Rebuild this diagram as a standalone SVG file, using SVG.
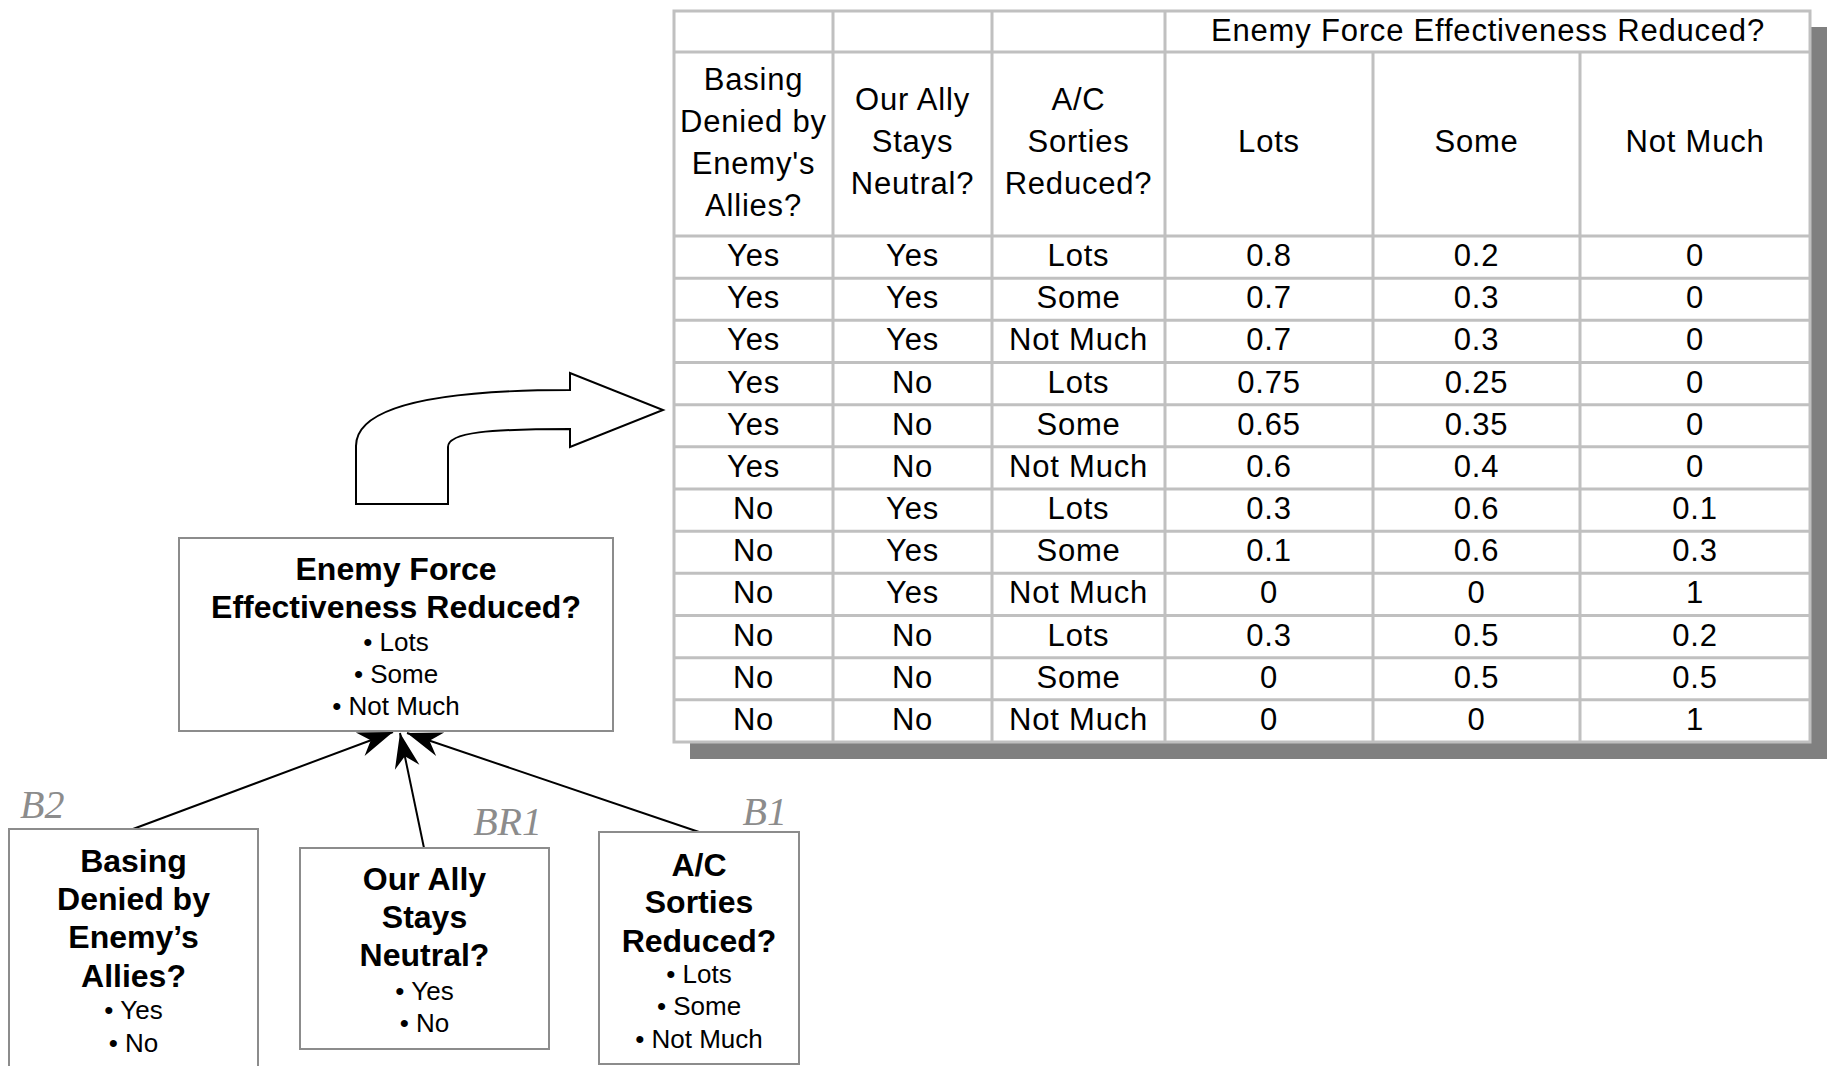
<svg xmlns="http://www.w3.org/2000/svg" width="1830" height="1066" viewBox="0 0 1830 1066">
  <style>
    .cell { font-family: "Liberation Sans", Arial, sans-serif; font-size: 31px; letter-spacing: 0.8px; fill: #000; text-anchor: middle; }
    .grid { stroke: #c0c0c0; stroke-width: 3; fill: none; }
    .sheet { stroke: #c0c0c0; stroke-width: 3; fill: #fff; }
    .box { fill: #fff; stroke: #8c8c8c; stroke-width: 2; }
    .title { font-family: "Liberation Sans", Arial, sans-serif; font-size: 32px; font-weight: bold; fill: #000; text-anchor: middle; }
    .item { font-family: "Liberation Sans", Arial, sans-serif; font-size: 26px; fill: #000; text-anchor: middle; }
    .tag { font-family: "Liberation Serif", "Times New Roman", serif; font-style: italic; font-size: 40px; fill: #8c8c8c; }
    .link { stroke: #000; stroke-width: 2; fill: none; marker-end: url(#head); }
  </style>
  <defs>
    <marker id="head" markerUnits="userSpaceOnUse" markerWidth="40" markerHeight="30" viewBox="-30 -12 32 24" refX="0" refY="0" orient="auto">
      <path d="M0,0 L-28,-10 L-19,0 L-28,10 Z" fill="#000"/>
    </marker>
  </defs>

  <rect width="1830" height="1066" fill="#fff"/>

  <!-- conditional probability table -->
  <g id="cpt-table">
    <rect x="690" y="27" width="1137" height="732" fill="#808080"/>
    <rect class="sheet" x="674" y="11" width="1136" height="731"/>
    <g class="grid">
      <line x1="833" y1="11" x2="833" y2="742"/>
      <line x1="992" y1="11" x2="992" y2="742"/>
      <line x1="1165" y1="11" x2="1165" y2="742"/>
      <line x1="1373" y1="52" x2="1373" y2="742"/>
      <line x1="1580" y1="52" x2="1580" y2="742"/>
      <line x1="674" y1="52" x2="1810" y2="52"/>
      <line x1="674" y1="236" x2="1810" y2="236"/>
      <line x1="674" y1="278.2" x2="1810" y2="278.2"/>
      <line x1="674" y1="320.3" x2="1810" y2="320.3"/>
      <line x1="674" y1="362.5" x2="1810" y2="362.5"/>
      <line x1="674" y1="404.7" x2="1810" y2="404.7"/>
      <line x1="674" y1="446.8" x2="1810" y2="446.8"/>
      <line x1="674" y1="489" x2="1810" y2="489"/>
      <line x1="674" y1="531.2" x2="1810" y2="531.2"/>
      <line x1="674" y1="573.3" x2="1810" y2="573.3"/>
      <line x1="674" y1="615.5" x2="1810" y2="615.5"/>
      <line x1="674" y1="657.7" x2="1810" y2="657.7"/>
      <line x1="674" y1="699.8" x2="1810" y2="699.8"/>
    </g>
    <text class="cell" x="1488" y="41">Enemy Force Effectiveness Reduced?</text>
    <text class="cell" x="753.5" y="90">Basing</text>
    <text class="cell" x="753.5" y="132">Denied by</text>
    <text class="cell" x="753.5" y="174">Enemy's</text>
    <text class="cell" x="753.5" y="216">Allies?</text>
    <text class="cell" x="912.5" y="110">Our Ally</text>
    <text class="cell" x="912.5" y="152">Stays</text>
    <text class="cell" x="912.5" y="194">Neutral?</text>
    <text class="cell" x="1078.5" y="110">A/C</text>
    <text class="cell" x="1078.5" y="152">Sorties</text>
    <text class="cell" x="1078.5" y="194">Reduced?</text>
    <text class="cell" x="1269" y="152">Lots</text>
    <text class="cell" x="1476.5" y="152">Some</text>
    <text class="cell" x="1695" y="152">Not Much</text>

    <g>
      <text class="cell" x="753.5" y="266">Yes</text><text class="cell" x="912.5" y="266">Yes</text><text class="cell" x="1078.5" y="266">Lots</text><text class="cell" x="1269" y="266">0.8</text><text class="cell" x="1476.5" y="266">0.2</text><text class="cell" x="1695" y="266">0</text>
      <text class="cell" x="753.5" y="308">Yes</text><text class="cell" x="912.5" y="308">Yes</text><text class="cell" x="1078.5" y="308">Some</text><text class="cell" x="1269" y="308">0.7</text><text class="cell" x="1476.5" y="308">0.3</text><text class="cell" x="1695" y="308">0</text>
      <text class="cell" x="753.5" y="350">Yes</text><text class="cell" x="912.5" y="350">Yes</text><text class="cell" x="1078.5" y="350">Not Much</text><text class="cell" x="1269" y="350">0.7</text><text class="cell" x="1476.5" y="350">0.3</text><text class="cell" x="1695" y="350">0</text>
      <text class="cell" x="753.5" y="392.5">Yes</text><text class="cell" x="912.5" y="392.5">No</text><text class="cell" x="1078.5" y="392.5">Lots</text><text class="cell" x="1269" y="392.5">0.75</text><text class="cell" x="1476.5" y="392.5">0.25</text><text class="cell" x="1695" y="392.5">0</text>
      <text class="cell" x="753.5" y="434.5">Yes</text><text class="cell" x="912.5" y="434.5">No</text><text class="cell" x="1078.5" y="434.5">Some</text><text class="cell" x="1269" y="434.5">0.65</text><text class="cell" x="1476.5" y="434.5">0.35</text><text class="cell" x="1695" y="434.5">0</text>
      <text class="cell" x="753.5" y="476.5">Yes</text><text class="cell" x="912.5" y="476.5">No</text><text class="cell" x="1078.5" y="476.5">Not Much</text><text class="cell" x="1269" y="476.5">0.6</text><text class="cell" x="1476.5" y="476.5">0.4</text><text class="cell" x="1695" y="476.5">0</text>
      <text class="cell" x="753.5" y="519">No</text><text class="cell" x="912.5" y="519">Yes</text><text class="cell" x="1078.5" y="519">Lots</text><text class="cell" x="1269" y="519">0.3</text><text class="cell" x="1476.5" y="519">0.6</text><text class="cell" x="1695" y="519">0.1</text>
      <text class="cell" x="753.5" y="561">No</text><text class="cell" x="912.5" y="561">Yes</text><text class="cell" x="1078.5" y="561">Some</text><text class="cell" x="1269" y="561">0.1</text><text class="cell" x="1476.5" y="561">0.6</text><text class="cell" x="1695" y="561">0.3</text>
      <text class="cell" x="753.5" y="603">No</text><text class="cell" x="912.5" y="603">Yes</text><text class="cell" x="1078.5" y="603">Not Much</text><text class="cell" x="1269" y="603">0</text><text class="cell" x="1476.5" y="603">0</text><text class="cell" x="1695" y="603">1</text>
      <text class="cell" x="753.5" y="645.5">No</text><text class="cell" x="912.5" y="645.5">No</text><text class="cell" x="1078.5" y="645.5">Lots</text><text class="cell" x="1269" y="645.5">0.3</text><text class="cell" x="1476.5" y="645.5">0.5</text><text class="cell" x="1695" y="645.5">0.2</text>
      <text class="cell" x="753.5" y="687.5">No</text><text class="cell" x="912.5" y="687.5">No</text><text class="cell" x="1078.5" y="687.5">Some</text><text class="cell" x="1269" y="687.5">0</text><text class="cell" x="1476.5" y="687.5">0.5</text><text class="cell" x="1695" y="687.5">0.5</text>
      <text class="cell" x="753.5" y="729.5">No</text><text class="cell" x="912.5" y="729.5">No</text><text class="cell" x="1078.5" y="729.5">Not Much</text><text class="cell" x="1269" y="729.5">0</text><text class="cell" x="1476.5" y="729.5">0</text><text class="cell" x="1695" y="729.5">1</text>
    </g>
  </g>

  <!-- bent block arrow pointing from the node to its table -->
  <g id="table-pointer">
    <path d="M356,504 L356,446 C356,408 430,390 570,390 L570,373 L663,410 L570,447 L570,429 C490,429 448,432 448,447 L448,504 Z" fill="#fff" stroke="#000" stroke-width="2"/>
  </g>

  <!-- connectors -->
  <g id="connectors">
    <line class="link" x1="133" y1="829" x2="393" y2="732"/>
    <line class="link" x1="424" y1="848" x2="400" y2="733"/>
    <line class="link" x1="699" y1="832" x2="407" y2="733"/>
  </g>

  <!-- nodes -->
  <g id="node-effectiveness">
    <rect class="box" x="179" y="538" width="434" height="193"/>
    <text class="title" x="396" y="580">Enemy Force</text>
    <text class="title" x="396" y="618">Effectiveness Reduced?</text>
    <text class="item" x="396" y="651">• Lots</text>
    <text class="item" x="396" y="683">• Some</text>
    <text class="item" x="396" y="715">• Not Much</text>
  </g>

  <g id="node-basing">
    <rect class="box" x="9" y="829" width="249" height="245"/>
    <text class="tag" x="20" y="818">B2</text>
    <text class="title" x="133.5" y="872">Basing</text>
    <text class="title" x="133.5" y="910">Denied by</text>
    <text class="title" x="133.5" y="948">Enemy’s</text>
    <text class="title" x="133.5" y="987">Allies?</text>
    <text class="item" x="133.5" y="1019">• Yes</text>
    <text class="item" x="133.5" y="1052">• No</text>
  </g>

  <g id="node-ally">
    <rect class="box" x="300" y="848" width="249" height="201"/>
    <text class="tag" x="542" y="835" text-anchor="end">BR1</text>
    <text class="title" x="424.5" y="890">Our Ally</text>
    <text class="title" x="424.5" y="928">Stays</text>
    <text class="title" x="424.5" y="966">Neutral?</text>
    <text class="item" x="424.5" y="1000">• Yes</text>
    <text class="item" x="424.5" y="1032">• No</text>
  </g>

  <g id="node-sorties">
    <rect class="box" x="599" y="832" width="200" height="232"/>
    <text class="tag" x="787" y="825" text-anchor="end">B1</text>
    <text class="title" x="699" y="876">A/C</text>
    <text class="title" x="699" y="913">Sorties</text>
    <text class="title" x="699" y="952">Reduced?</text>
    <text class="item" x="699" y="983">• Lots</text>
    <text class="item" x="699" y="1015">• Some</text>
    <text class="item" x="699" y="1048">• Not Much</text>
  </g>
</svg>
